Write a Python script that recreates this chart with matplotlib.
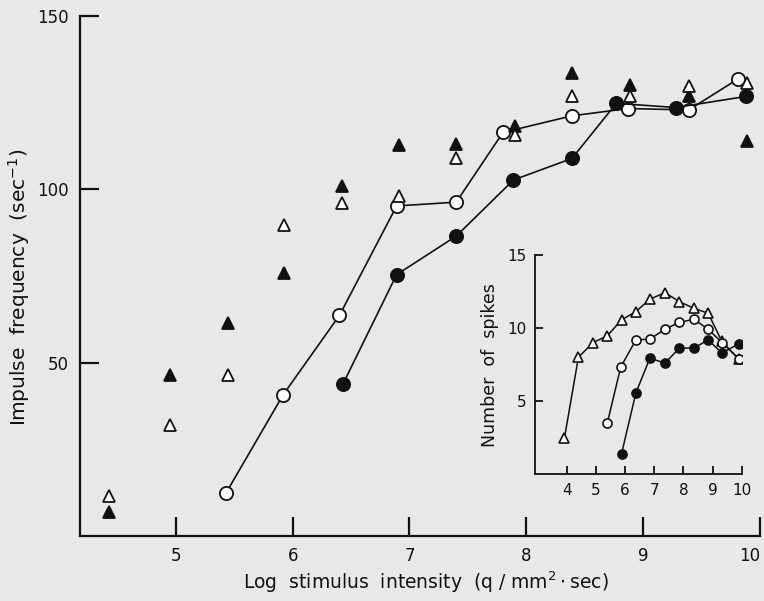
import numpy as np
import matplotlib
matplotlib.use('Agg')
import matplotlib.pyplot as plt

# main panel: impulse frequency vs log stimulus intensity
open_circ_x = [5.43, 5.92, 6.40, 6.89, 7.40, 7.80, 8.39, 8.87, 9.39, 9.81]
open_circ_y = [12.4, 40.8, 63.6, 95.2, 96.3, 116.4, 121.2, 123.3, 122.9, 131.8]
fill_circ_x = [6.43, 6.89, 7.40, 7.89, 8.39, 8.77, 9.28, 9.88]
fill_circ_y = [43.8, 75.4, 86.5, 102.7, 108.9, 124.8, 123.6, 126.8]
tri_x = [4.43, 4.95, 5.45, 5.93, 6.42, 6.91, 7.40, 7.90, 8.39, 8.89, 9.39, 9.89]
fill_tri_y = [7.0, 46.5, 61.5, 75.9, 101.0, 112.7, 113.2, 118.3, 133.5, 130.1, 126.8, 114.0]
open_tri_y = [11.4, 32.1, 46.5, 89.6, 96.0, 98.1, 108.9, 115.6, 127.0, 127.0, 129.7, 130.8]

# inset: number of spikes
in_tri_x = [3.92, 4.40, 4.91, 5.39, 5.88, 6.37, 6.85, 7.37, 7.86, 8.36, 8.85, 9.32, 9.90]
in_tri_y = [2.5, 8.02, 9.02, 9.48, 10.57, 11.13, 11.98, 12.43, 11.81, 11.36, 11.02, 9.09, 7.89]
in_open_x = [5.39, 5.85, 6.37, 6.85, 7.37, 7.86, 8.36, 8.85, 9.32, 9.90]
in_open_y = [3.52, 7.34, 9.2, 9.25, 9.93, 10.4, 10.6, 9.93, 9.02, 7.9]
in_fill_x = [5.88, 6.37, 6.85, 7.37, 7.86, 8.36, 8.85, 9.32, 9.90]
in_fill_y = [1.43, 5.57, 7.95, 7.61, 8.64, 8.64, 9.2, 8.3, 8.93]

bg = '#e8e8e6'
ink = '#111111'
plt.rcParams['font.family'] = ['DejaVu Sans']

fig = plt.figure(figsize=(7.64, 6.01), dpi=100, facecolor=bg)
ax = fig.add_axes([0.1047, 0.1082, 0.8901, 0.8652], facecolor=bg)

ax.plot(open_circ_x, open_circ_y, '-o', color=ink, mfc='white', mec=ink,
        ms=9.5, mew=1.3, lw=1.2, zorder=3)
ax.plot(fill_circ_x, fill_circ_y, '-o', color=ink, mfc=ink, mec=ink,
        ms=9.5, mew=1.3, lw=1.2, zorder=3)
ax.plot(tri_x, fill_tri_y, '^', color=ink, ms=8.5, mew=1.3, zorder=4)
ax.plot(tri_x, open_tri_y, '^', mfc='white', mec=ink, ms=8.5, mew=1.3, zorder=4)

ax.set_xlim(4.18, 10)
ax.set_ylim(0, 150)
ax.set_xticks([5, 6, 7, 8, 9, 10])
ax.set_yticks([50, 100, 150])
for s in ['top', 'right']:
    ax.spines[s].set_visible(False)
for s in ['left', 'bottom']:
    ax.spines[s].set_linewidth(1.6)
    ax.spines[s].set_color(ink)
ax.tick_params(direction='in', length=14, width=1.6, labelsize=12,
               colors=ink, pad=8)
# last tick label sits at the canvas edge; keep it inside
ax.get_xticklabels()[-1].set_horizontalalignment('right')

# axis titles placed by hand so they stay inside the canvas
fig.text(0.557, 0.032, r'Log  stimulus  intensity  (q / mm$^2\cdot$sec)',
         fontsize=13.5, color=ink, ha='center', va='center')
fig.text(0.025, 0.522, r'Impulse  frequency  (sec$^{-1}$)', fontsize=14.5,
         color=ink, ha='center', va='center', rotation=90)

# inset
ins = fig.add_axes([0.7003, 0.2105, 0.2705, 0.3652], facecolor='none')
ins.plot(in_tri_x, in_tri_y, '-^', color=ink, mfc='white', mec=ink,
         ms=7.5, mew=1.2, lw=1.1, zorder=3)
ins.plot(in_open_x, in_open_y, '-o', color=ink, mfc='white', mec=ink,
         ms=6.5, mew=1.2, lw=1.1, zorder=3)
ins.plot(in_fill_x, in_fill_y, '-o', color=ink, mfc=ink, mec=ink,
         ms=6.5, mew=1.2, lw=1.1, zorder=3)
ins.set_xlim(2.91, 10)
ins.set_ylim(0, 15)
ins.set_xticks([4, 5, 6, 7, 8, 9, 10])
ins.set_yticks([5, 10, 15])
for s in ['top', 'right']:
    ins.spines[s].set_visible(False)
for s in ['left', 'bottom']:
    ins.spines[s].set_linewidth(1.3)
    ins.spines[s].set_color(ink)
ins.tick_params(direction='in', length=6, width=1.3, labelsize=11,
                colors=ink, pad=6)
ins.set_ylabel('Number  of  spikes', fontsize=12.5, color=ink, labelpad=6)

fig.savefig('out.png', dpi=100, facecolor=bg)
